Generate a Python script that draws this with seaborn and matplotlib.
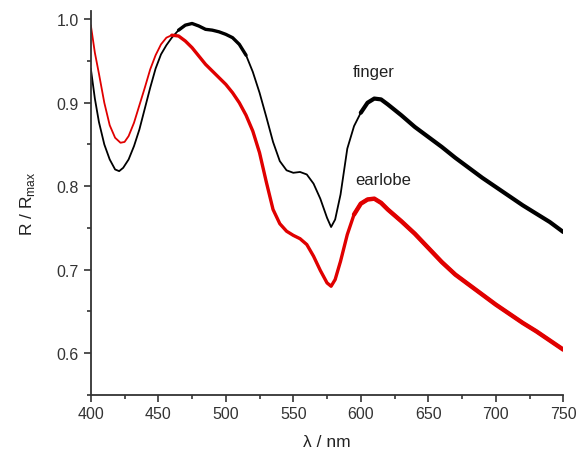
import matplotlib
matplotlib.use("Agg")
import matplotlib.pyplot as plt
import seaborn as sns
import pandas as pd
from matplotlib.ticker import MultipleLocator

finger_wl = [400, 403, 406, 410, 414, 418, 421, 424, 428, 432, 436, 440, 444, 448,
             452, 456, 460, 465, 470, 475, 480, 485, 490, 495, 500, 505, 510, 515,
             520, 525, 530, 535, 540, 545, 550, 555, 560, 565, 570, 575, 578, 581,
             585, 590, 595, 600, 605, 610, 615, 620, 630, 640, 650, 660, 670, 680,
             690, 700, 710, 720, 730, 740, 750]
finger_r = [0.941, 0.905, 0.877, 0.850, 0.832, 0.820, 0.818, 0.822, 0.832, 0.848,
            0.868, 0.893, 0.918, 0.941, 0.958, 0.969, 0.978, 0.987, 0.993, 0.995,
            0.992, 0.988, 0.987, 0.985, 0.982, 0.978, 0.970, 0.957, 0.937, 0.912,
            0.883, 0.853, 0.830, 0.819, 0.816, 0.817, 0.814, 0.803, 0.785, 0.762,
            0.751, 0.760, 0.790, 0.845, 0.872, 0.888, 0.900, 0.905, 0.904, 0.898,
            0.885, 0.871, 0.859, 0.847, 0.834, 0.822, 0.810, 0.799, 0.788, 0.777,
            0.767, 0.757, 0.745]

earlobe_wl = [400, 403, 406, 410, 414, 418, 422, 425, 428, 432, 436, 440, 444, 448,
              452, 456, 460, 465, 470, 475, 480, 485, 490, 495, 500, 505, 510, 515,
              520, 525, 530, 535, 540, 545, 550, 555, 560, 565, 570, 575, 578, 581,
              585, 590, 595, 600, 605, 610, 615, 620, 630, 640, 650, 660, 670, 680,
              690, 700, 710, 720, 730, 740, 750]
earlobe_r = [0.993, 0.960, 0.935, 0.900, 0.873, 0.858, 0.852, 0.853, 0.860, 0.876,
             0.897, 0.918, 0.940, 0.957, 0.970, 0.978, 0.981, 0.980, 0.974, 0.966,
             0.956, 0.946, 0.938, 0.930, 0.922, 0.912, 0.900, 0.885, 0.866, 0.840,
             0.805, 0.772, 0.755, 0.746, 0.741, 0.737, 0.730, 0.716, 0.699, 0.684,
             0.680, 0.688, 0.710, 0.742, 0.766, 0.779, 0.784, 0.785, 0.780, 0.772,
             0.758, 0.743, 0.726, 0.709, 0.694, 0.682, 0.670, 0.658, 0.647, 0.636,
             0.626, 0.615, 0.604]

x_ticks = [400, 450, 500, 550, 600, 650, 700, 750]
y_ticks = [0.6, 0.7, 0.8, 0.9, 1.0]

sns.set_theme(style="ticks")
plt.rcParams['font.family'] = ['Liberation Sans', 'DejaVu Sans']

df_f = pd.DataFrame({"wl": finger_wl, "R": finger_r})
df_e = pd.DataFrame({"wl": earlobe_wl, "R": earlobe_r})

fig = plt.figure(figsize=(5.81, 4.52), dpi=100)
ax = fig.add_axes([0.1563, 0.1246, 0.8132, 0.8489])

red = "#e00000"
cap = dict(solid_capstyle="round", solid_joinstyle="round")
# base traces
sns.lineplot(data=df_f, x="wl", y="R", ax=ax, color="black", linewidth=1.3, **cap)
sns.lineplot(data=df_e, x="wl", y="R", ax=ax, color=red, linewidth=1.3, **cap)
# noisier (visually thicker) parts of the spectra
sns.lineplot(data=df_f[(df_f.wl >= 465) & (df_f.wl <= 515)], x="wl", y="R", ax=ax,
             color="black", linewidth=2.4, **cap)
sns.lineplot(data=df_f[df_f.wl >= 600], x="wl", y="R", ax=ax,
             color="black", linewidth=3.0, **cap)
sns.lineplot(data=df_e[df_e.wl >= 460], x="wl", y="R", ax=ax,
             color=red, linewidth=2.4, **cap)
sns.lineplot(data=df_e[df_e.wl >= 595], x="wl", y="R", ax=ax,
             color=red, linewidth=3.2, **cap)

ax.set_xlim(400, 750)
ax.set_ylim(0.55, 1.01)
ax.set_xticks(x_ticks)
ax.set_xticklabels([str(t) for t in x_ticks])
ax.set_yticks(y_ticks)
ax.set_yticklabels([f"{t:.1f}" for t in y_ticks])
ax.xaxis.set_minor_locator(MultipleLocator(25))
ax.yaxis.set_minor_locator(MultipleLocator(0.05))

for s in ["top", "right"]:
    ax.spines[s].set_visible(False)
for s in ["left", "bottom"]:
    ax.spines[s].set_color("#333333")
    ax.spines[s].set_linewidth(1.3)

ax.tick_params(axis="both", which="major", direction="out", length=5, width=1.2,
               labelsize=11.5, colors="#333333", labelcolor="#333333")
ax.tick_params(axis="both", which="minor", direction="out", length=3, width=1.2,
               colors="#333333")

ax.set_xlabel("λ / nm", fontsize=12.5, color="#222222", labelpad=9)
ax.set_ylabel(r"R / R$_\mathregular{max}$", fontsize=12.5, color="#222222", labelpad=14)

ax.text(594, 0.937, "finger", fontsize=12, color="#222222", va="center", ha="left")
ax.text(596, 0.8085, "earlobe", fontsize=12, color="#222222", va="center", ha="left")

fig.savefig("out.png", dpi=100)
